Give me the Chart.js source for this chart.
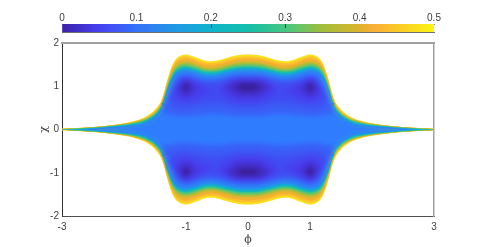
<!DOCTYPE html>
<html><head><meta charset="utf-8">
<style>html,body{margin:0;padding:0;background:#fff;overflow:hidden}
#w{position:relative;width:480px;height:247px}canvas{position:absolute;left:0;top:0}</style>
<script src="https://cdn.jsdelivr.net/npm/chart.js@4"></script></head>
<body><div id="w"><canvas id="m" width="480" height="247"></canvas><canvas id="c" width="480" height="40"></canvas></div>
<script>
// colour bar
const barTicks=[0,0.1,0.2,0.3,0.4,0.5];
const barStops=[0,0.05,0.1,0.15,0.2,0.25,0.3,0.35,0.4,0.42,0.45,0.5];
const barColors=['#3c22a8','#4640f0','#3472fa','#2296e6','#0fb4cd','#14bea8','#46c882','#a0be3c','#dcb42d','#faaf37','#fac828','#fcf514'];
// axes
const xTicks=[-3,-1,0,1,3];
const yTicks=[-2,-1,0,1,2];
// outer boundary curves of the region, left half
const phiOuter=[-3,-2.75,-2.5,-2.25,-2,-1.85,-1.7,-1.6,-1.5,-1.4,-1.3,-1.25,-1.2,-1.15,-1.1,-1,-0.85,-0.7,-0.6,-0.5,-0.35,-0.2,0];
const c50=[.018,.035,.06,.095,.145,.19,.26,.34,.46,.67,1.15,1.38,1.55,1.65,1.70,1.735,1.675,1.595,1.58,1.595,1.655,1.71,1.735];
const c46=[.016,.033,.057,.091,.139,.182,.25,.32,.429,.644,1.12,1.345,1.51,1.61,1.66,1.69,1.63,1.555,1.54,1.555,1.615,1.665,1.69];
const c42=[.015,.031,.054,.087,.133,.175,.239,.309,.416,.624,1.085,1.305,1.465,1.56,1.605,1.64,1.58,1.505,1.495,1.505,1.565,1.615,1.64];
const c38=[.014,.03,.052,.084,.128,.167,.229,.297,.405,.6,1.055,1.27,1.425,1.52,1.565,1.595,1.54,1.465,1.455,1.465,1.525,1.575,1.595];
const c34=[.013,.028,.05,.08,.122,.16,.218,.287,.392,.58,1.03,1.235,1.39,1.48,1.52,1.555,1.5,1.43,1.415,1.43,1.48,1.53,1.555];
const c30=[.012,.026,.047,.076,.116,.152,.208,.274,.374,.561,1.0,1.2,1.35,1.435,1.48,1.51,1.455,1.39,1.375,1.39,1.44,1.49,1.51];
const c25=[.008,.019,.042,.07,.107,.141,.192,.257,.352,.541,.97,1.165,1.31,1.395,1.435,1.465,1.415,1.35,1.335,1.35,1.4,1.445,1.465];
const c20=[0,.012,.036,.064,.097,.127,.174,.241,.334,.521,.95,1.145,1.285,1.37,1.41,1.44,1.39,1.325,1.31,1.325,1.375,1.42,1.44];
const c16=[0,0,.027,.057,.087,.114,.156,.221,.317,.495,.925,1.115,1.255,1.335,1.375,1.405,1.355,1.29,1.28,1.29,1.34,1.385,1.405];
const c13=[0,0,.012,.045,.073,.095,.13,.198,.295,.469,.895,1.08,1.215,1.295,1.335,1.36,1.315,1.25,1.24,1.25,1.3,1.34,1.36];
const c11=[0,0,0,.025,.05,.067,.091,.165,.255,.429,.86,1.045,1.175,1.25,1.29,1.32,1.27,1.21,1.2,1.21,1.26,1.3,1.32];
const outerCurves=[c50,c46,c42,c38,c34,c30,c25,c20,c16,c13,c11];
const outerColors=['#fae11e','#fac32d','#f5af32','#e1b42d','#aabe3c','#64c36e','#28c396','#0fb4c8','#1e9be1','#2d82f5','#307cff'];
// inner low-value pockets, upper and lower contour arcs, left half
const phiInner=[-1.4,-1.3,-1.2,-1.1,-1.05,-1,-0.95,-0.9,-0.8,-0.7,-0.6,-0.5,-0.4,-0.3,-0.2,-0.1,0];
const u09=[.35,.66,1.08,1.23,1.26,1.27,1.26,1.24,1.19,1.16,1.15,1.16,1.19,1.23,1.26,1.27,1.27];
const d09=[.35,.36,.33,.3,.3,.3,.305,.31,.32,.34,.35,.35,.34,.32,.3,.3,.3];
const u08=[.6,.6,1.02,1.2,1.23,1.24,1.23,1.21,1.16,1.13,1.12,1.13,1.16,1.2,1.23,1.24,1.24];
const d08=[.6,.5,.45,.42,.42,.42,.425,.43,.45,.47,.48,.48,.47,.44,.42,.42,.42];
const u07=[.72,.72,.95,1.17,1.2,1.21,1.2,1.18,1.13,1.1,1.09,1.1,1.13,1.17,1.2,1.21,1.21];
const d07=[.72,.72,.58,.55,.54,.54,.55,.56,.59,.62,.64,.64,.62,.58,.55,.54,.54];
const u06=[.75,.75,.78,1.12,1.17,1.18,1.16,1.13,1.05,.97,.9,.9,1.0,1.12,1.16,1.18,1.18];
const d06=[.75,.75,.78,.68,.67,.66,.67,.69,.74,.8,.86,.9,.8,.71,.66,.64,.64];
const u05=[.9,.9,.9,1.05,1.13,1.15,1.12,1.07,.92,.95,.95,.95,.98,1.08,1.14,1.15,1.15];
const d05=[.9,.9,.9,.8,.74,.72,.74,.78,.92,.95,.95,.95,.98,.82,.74,.72,.72];
const u04=[.96,.96,.96,1.0,1.1,1.12,1.1,1.02,.97,.98,.98,.98,.99,1.03,1.1,1.12,1.12];
const d04=[.96,.96,.96,.92,.81,.78,.81,.9,.97,.98,.98,.98,.99,.93,.82,.78,.77];
const u03=[.98,.98,.98,.98,1.05,1.08,1.05,.98,.98,1,1,1,1,1,1.07,1.09,1.09];
const d03=[.98,.98,.98,.98,.88,.83,.88,.98,.98,1,1,1,1,1,.88,.84,.83];
const u02=[.97,.97,.97,.97,.97,1.05,.97,.97,.97,1,1,1,1,1,1,1.05,1.06];
const d02=[.97,.97,.97,.97,.97,.9,.97,.97,.97,1,1,1,1,1,1,.92,.9];
const innerUpper=[u09,u08,u07,u06,u05,u04,u03,u02];
const innerLower=[d09,d08,d07,d06,d05,d04,d03,d02];
const innerColors=['#3764f8','#3c5af5','#414bf2','#463eee','#4637e1','#4430cd','#412abe','#3a1e9a'];

const full=(xs,ys,sign)=>{
  const p=xs.map((x,i)=>({x:x,y:sign*ys[i]}));
  for(let i=xs.length-2;i>=0;i--)p.push({x:-xs[i],y:sign*ys[i]});
  return p;
};
const ds=[];let order=1000;
const band=(xs,top,bot,color,mode)=>{
  const i=ds.length;
  const base={pointRadius:0,borderWidth:0,tension:mode?0:0.4,cubicInterpolationMode:mode||'default',order:order};
  ds.push({...base,data:full(xs,top.u,top.s),fill:i+1,backgroundColor:color,borderColor:color});
  ds.push({...base,data:full(xs,bot.u,bot.s),fill:false,backgroundColor:color,borderColor:color});
  order--;
};
outerCurves.forEach((c,i)=>band(phiOuter,{u:c,s:1},{u:c,s:-1},outerColors[i]));
innerUpper.forEach((u,i)=>{
  band(phiInner,{u:u,s:1},{u:innerLower[i],s:1},innerColors[i],'monotone');
  band(phiInner,{u:innerLower[i],s:-1},{u:u,s:-1},innerColors[i],'monotone');
});
const textColor='#404040',font={family:'"Liberation Sans"',size:10};
// smooths the steps between neighbouring contour bands, as in the reference's continuous shading
const smooth={id:'smooth',afterDatasetsDraw(ch){
  const c=ch.ctx,a=ch.chartArea,xs=ch.scales.x,ys=ch.scales.y,cv=ch.canvas;
  const copy=document.createElement('canvas');copy.width=cv.width;copy.height=cv.height;
  copy.getContext('2d').drawImage(cv,0,0);
  const top=full(phiOuter,c11,1),bot=full(phiOuter,c11,-1).reverse();
  c.save();c.beginPath();
  top.concat(bot).forEach((p,i)=>{const X=xs.getPixelForValue(p.x),Y=ys.getPixelForValue(p.y);i?c.lineTo(X,Y):c.moveTo(X,Y)});
  c.closePath();c.clip();c.filter='blur(2px)';c.drawImage(copy,0,0);c.restore();
  copy.getContext('2d').clearRect(0,0,copy.width,copy.height);
  copy.getContext('2d').drawImage(cv,0,0);
  c.save();c.beginPath();c.rect(a.left+1,a.top+1,a.width-2,a.height-2);c.clip();
  c.fillStyle='#fff';c.fillRect(a.left,a.top,a.width,a.height);
  c.filter='blur(0.6px)';c.drawImage(copy,0,0);c.restore();
}};
new Chart(document.getElementById('m'),{type:'line',data:{datasets:ds},options:{
  responsive:false,animation:false,events:[],
  layout:{padding:{left:38,right:46,top:43,bottom:0}},
  plugins:{legend:{display:false},tooltip:{enabled:false}},
  scales:{
    x:{type:'linear',min:-3,max:3,afterBuildTicks:s=>{s.ticks=xTicks.map(v=>({value:v}))},
      ticks:{color:textColor,font:font,padding:5,maxRotation:0,autoSkip:false,callback:v=>String(v)},
      grid:{drawOnChartArea:false,tickLength:0},border:{color:'#505050'},
      title:{display:true,text:'ϕ',color:textColor,font:{family:'"DejaVu Serif"',size:11},padding:{top:3,bottom:0}},
      afterFit:s=>{s.height=31}},
    y:{type:'linear',min:-2,max:2,afterBuildTicks:s=>{s.ticks=yTicks.map(v=>({value:v}))},
      ticks:{color:textColor,font:font,padding:3,callback:v=>String(v)},
      grid:{drawOnChartArea:false,tickLength:0},border:{color:'#303030'},
      title:{display:true,text:'χ',color:textColor,font:{family:'"DejaVu Serif"',size:11},padding:{top:0,bottom:0}},
      afterFit:s=>{s.width=24}},
    xTop:{type:'linear',position:'top',min:-3,max:3,ticks:{display:false},grid:{drawOnChartArea:false,drawTicks:false},border:{color:'#a0a0a0',width:2},afterFit:s=>{s.height=0}},
    yRight:{type:'linear',position:'right',min:-2,max:2,ticks:{display:false},grid:{drawOnChartArea:false,drawTicks:false},border:{color:'#a0a0a0',width:1.5},afterFit:s=>{s.width=0}}
  }},plugins:[smooth]});
const gradFor=(chart)=>{
  const a=chart.chartArea,x=chart.scales.x;
  if(!a)return barColors[0];
  const g=chart.ctx.createLinearGradient(x.getPixelForValue(0),0,x.getPixelForValue(0.5),0);
  barStops.forEach((s,i)=>g.addColorStop(s/0.5,barColors[i]));
  return g;
};
new Chart(document.getElementById('c'),{type:'bar',
  data:{labels:[''],datasets:[{data:[[0,0.5]],barPercentage:1,categoryPercentage:1,borderWidth:0,backgroundColor:c=>gradFor(c.chart)}]},
  options:{indexAxis:'y',responsive:false,animation:false,events:[],
  layout:{padding:{left:62,right:46,top:0,bottom:8}},
  plugins:{legend:{display:false},tooltip:{enabled:false}},
  scales:{
    x:{type:'linear',position:'top',min:0,max:0.5,afterBuildTicks:s=>{s.ticks=barTicks.map(v=>({value:v}))},
      ticks:{color:textColor,font:font,padding:0,maxRotation:0,autoSkip:false,callback:v=>String(v)},
      grid:{drawOnChartArea:false,tickLength:0},border:{color:'#8c8ce6'},afterFit:s=>{s.height=24}},
    y:{display:false},
    xBottom:{type:'linear',position:'bottom',min:0,max:0.5,ticks:{display:false},grid:{drawOnChartArea:false,drawTicks:false},border:{color:'#707070'},afterFit:s=>{s.height=0}}
  }},
  plugins:[{id:'barMarks',afterDatasetsDraw(ch){
    const c=ch.ctx,a=ch.chartArea,x=ch.scales.x;c.save();c.strokeStyle='#303040';c.lineWidth=1;
    [0.2,0.3].forEach(v=>{const p=Math.round(x.getPixelForValue(v))+.5;c.beginPath();c.moveTo(p,a.top);c.lineTo(p,a.top+4);c.stroke()});c.restore();
  }}]});
</script></body></html>
